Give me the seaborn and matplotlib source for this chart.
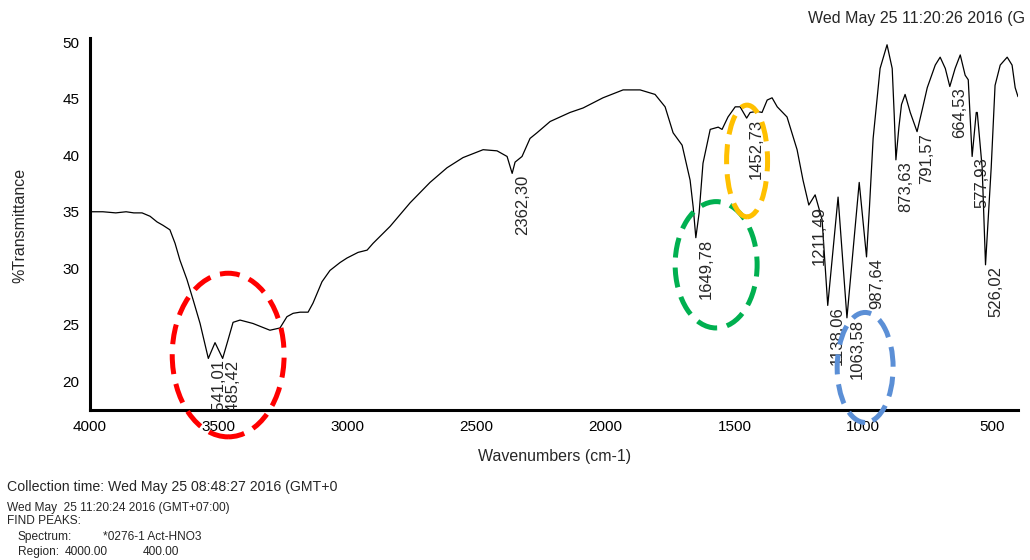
import numpy as np
import pandas as pd
import matplotlib
matplotlib.use("Agg")
import matplotlib.pyplot as plt
import seaborn as sns
from matplotlib.patches import Ellipse

# spectrum (wavenumber cm-1, %T)
wavenumbers = [4000, 3950, 3900, 3860, 3830, 3798, 3767, 3740, 3717, 3690,
               3670, 3651, 3624, 3600, 3573, 3541.01, 3515, 3485.42, 3465, 3445,
               3418, 3368, 3302, 3263, 3236, 3212, 3185, 3154, 3135, 3100,
               3069, 3030, 3003, 2960, 2925, 2902, 2836, 2758, 2681, 2615,
               2553, 2475, 2421, 2382, 2362.30, 2351, 2324, 2293, 2266, 2215,
               2138, 2087, 2010, 1932, 1866, 1808, 1769, 1738, 1703, 1672,
               1660, 1649.78, 1637, 1622, 1594, 1563, 1548, 1525, 1497, 1478,
               1452.73, 1439, 1412, 1393, 1373, 1354, 1334, 1296, 1257, 1234,
               1211.49, 1187, 1160, 1138.06, 1098, 1063.58, 1016, 987.64, 976, 962,
               935, 908, 888, 880, 873.63, 862, 852, 838, 818, 791.57,
               770, 752, 721, 702, 682, 664.53, 644, 624, 605, 593,
               577.93, 562, 558, 539, 526.02, 504, 489, 469, 442, 423,
               411, 400]
transmittance = [35.0, 35.0, 34.9, 35.0, 34.9, 34.9, 34.6, 34.1, 33.8, 33.4,
                 32.2, 30.7, 29.0, 27.2, 25.1, 22.0, 23.4, 22.0, 23.6, 25.2,
                 25.4, 25.1, 24.5, 24.7, 25.7, 26.0, 26.1, 26.1, 26.9, 28.8,
                 29.8, 30.5, 30.9, 31.4, 31.6, 32.2, 33.7, 35.8, 37.6, 38.9,
                 39.8, 40.5, 40.4, 39.9, 38.4, 39.4, 39.9, 41.5, 42.0, 43.0,
                 43.8, 44.2, 45.1, 45.8, 45.8, 45.4, 44.3, 42.0, 40.9, 37.8,
                 35.4, 32.7, 34.9, 39.3, 42.3, 42.5, 42.3, 43.4, 44.3, 44.3,
                 43.3, 43.8, 43.9, 43.8, 44.9, 45.1, 44.3, 43.4, 40.5, 37.8,
                 35.6, 36.5, 34.3, 26.7, 36.3, 25.6, 37.6, 31.0, 35.5, 41.5,
                 47.7, 49.8, 47.7, 43.5, 39.6, 42.5, 44.5, 45.4, 43.8, 42.1,
                 44.2, 46.0, 48.0, 48.7, 47.7, 46.1, 47.7, 48.9, 47.1, 46.7,
                 39.9, 43.8, 43.8, 38.9, 30.3, 38.9, 46.2, 48.0, 48.7, 48.0,
                 46.0, 45.2]

peaks = [3541.01, 3485.42, 2362.30, 1649.78, 1452.73, 1211.49, 1138.06,
         1063.58, 987.64, 873.63, 791.57, 664.53, 577.93, 526.02]

df = pd.DataFrame({"wn": wavenumbers, "T": transmittance})

sns.set_style("white")
plt.rcParams["font.family"] = ["Liberation Sans", "DejaVu Sans"]

fig = plt.figure(figsize=(10.3, 5.6), dpi=100)
ax = fig.add_axes([90 / 1030, 1 - 410 / 560, 928 / 1030, 372 / 560])

sns.lineplot(data=df, x="wn", y="T", sort=False, estimator=None,
             color="black", linewidth=0.9, ax=ax)

ax.set_xlim(4000, 400)
ax.set_ylim(17.43, 50.4)
ax.set_xticks([4000, 3500, 3000, 2500, 2000, 1500, 1000, 500])
ax.set_yticks([20, 25, 30, 35, 40, 45, 50])
ax.yaxis.set_minor_locator(matplotlib.ticker.MultipleLocator(1))
ax.xaxis.set_minor_locator(matplotlib.ticker.MultipleLocator(100))
ax.tick_params(axis="both", which="major", direction="out", length=4,
               width=1, labelsize=11, colors="black")
ax.tick_params(axis="both", which="minor", direction="in", length=3, width=0.8)
ax.tick_params(axis="x", pad=3)

for side in ["top", "right"]:
    ax.spines[side].set_visible(False)
for side in ["left", "bottom"]:
    ax.spines[side].set_linewidth(2.2)
    ax.spines[side].set_color("black")

ax.set_xlabel("Wavenumbers (cm-1)", fontsize=11.5)
ax.set_ylabel("%Transmittance", fontsize=11.5)
ax.xaxis.set_label_coords(0.501, -0.105)
ax.yaxis.set_label_coords(-0.068, 0.497)

# peak labels, hanging below each minimum
for p in peaks:
    y = np.interp(p, wavenumbers[::-1], transmittance[::-1])
    ax.annotate(f"{p:.2f}".replace(".", ","), xy=(p, y), xytext=(10, -1),
                textcoords="offset pixels", rotation=90, ha="center",
                va="top", fontsize=12, clip_on=True)

# dashed highlight ellipses
circles = [
    (3464, 22.3, 434, 14.5, "#ff0000"),
    (1571, 30.3, 318, 11.2, "#00b050"),
    (1451, 39.5, 159, 9.9, "#ffc000"),
    (993, 21.2, 217, 9.75, "#5b8fd6"),
]
for cx, cy, w, h, col in circles:
    ax.add_patch(Ellipse((cx, cy), w, h, fill=False, edgecolor=col,
                         linewidth=3.6, linestyle=(0, (4, 2)),
                         clip_on=False, zorder=5))

fig.text(808 / 1030, 1 - 18 / 560, "Wed May 25 11:20:26 2016 (G",
         fontsize=11.5, va="center", ha="left")
fig.text(7 / 1030, 1 - 487 / 560,
         "Collection time: Wed May 25 08:48:27 2016 (GMT+0",
         fontsize=10.2, va="center", ha="left")
info_lines = [
    (7, 508, "Wed May  25 11:20:24 2016 (GMT+07:00)"),
    (7, 521, "FIND PEAKS:"),
    (18, 537, "Spectrum:"),
    (103, 537, "*0276-1 Act-HNO3"),
    (18, 552, "Region:"),
    (65, 552, "4000.00"),
    (143, 552, "400.00"),
]
for x, y, s in info_lines:
    fig.text(x / 1030, 1 - y / 560, s, fontsize=8.6, va="center", ha="left")

fig.savefig("out.png", dpi=100)
